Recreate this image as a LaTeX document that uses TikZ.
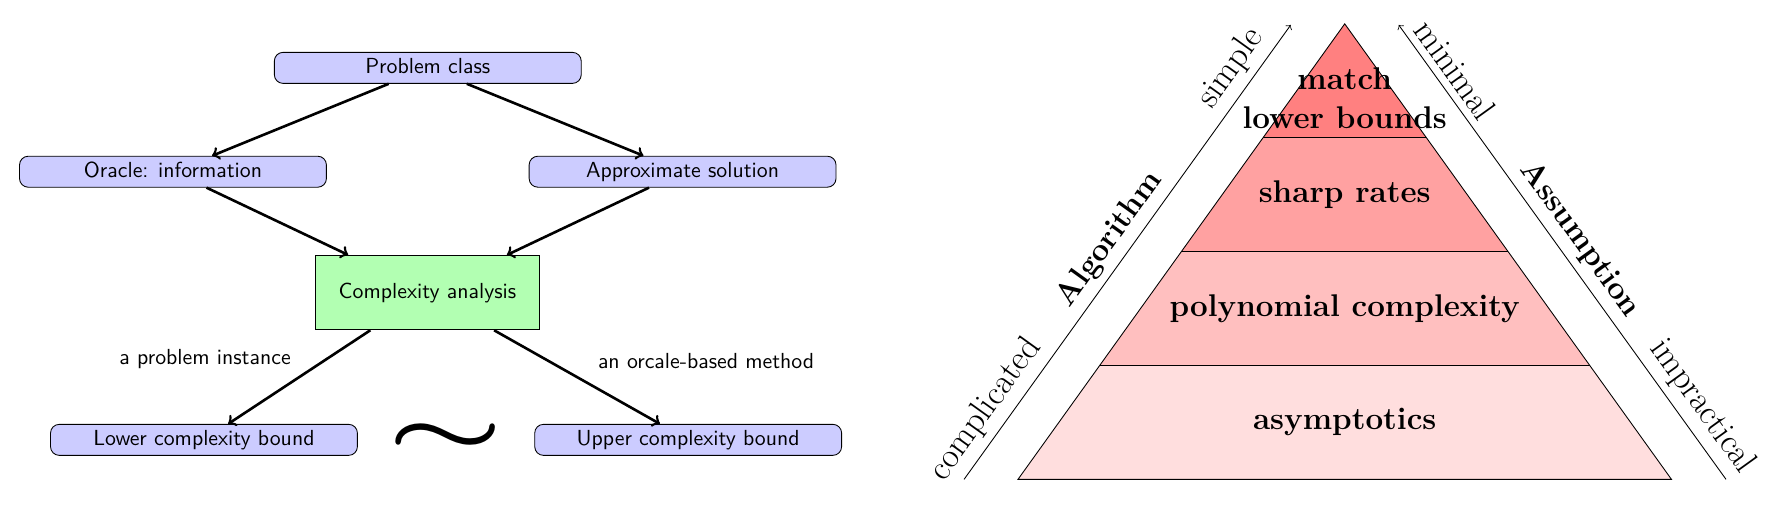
\documentclass[tikz,border=0pt]{standalone}
\usepackage{graphicx}
\begin{document}
\begin{tikzpicture}[
  bluebox/.style={draw, rounded corners, fill=blue!20, minimum width=4.95cm, minimum height=0.5cm,
    inner ysep=2.5pt, text height=1.5ex, text depth=.3ex},
  greenbox/.style={draw, fill=green!30, minimum width=3.6cm, minimum height=1.2cm},
  flow/.style={->, very thick},
  side/.style={sloped, above, font=\fontsize{16}{19}\selectfont},
  sidebf/.style={sloped, above, font=\Large\bfseries},
  level/.style={font=\Large\bfseries, align=center}]
\useasboundingbox (0,0) rectangle (28.84,8.24);
\begin{scope}[font=\sffamily]
  \node[bluebox] (problem) at (6.90,7.145) {Problem class};
  \node[bluebox] (oracle) at (2.79,5.47) {Oracle: information};
  \node[bluebox] (approx) at (11.01,5.47) {Approximate solution};
  \node[greenbox] (analysis) at (6.895,3.52) {Complexity analysis};
  \node[bluebox] (lower) at (3.29,1.145) {Lower complexity bound};
  \node[bluebox] (upper) at (11.10,1.145) {Upper complexity bound};
  \node (sim) at (7.19,1.17) {\scalebox{2.4}[1.4]{\Huge\boldmath$\sim$}};
  \draw[flow] (problem) -- (oracle);
  \draw[flow] (problem) -- (approx);
  \draw[flow] (oracle) -- (analysis);
  \draw[flow] (approx) -- (analysis);
  \draw[flow] (analysis) -- node[above left, pos=.5] {a problem instance} (lower);
  \draw[flow] (analysis) -- node[above right, pos=.5, xshift=.2cm] {an orcale-based method} (upper);
\end{scope}
\begin{scope}[shift={(21.69,0.508)}]
  \foreach \i/\c in {0/red!13, 1/red!25, 2/red!37, 3/red!50}
    \fill[\c] ({-5.27*(1-\i/4)},{1.837*\i}) -- ({5.27*(1-\i/4)},{1.837*\i})
      -- ({5.27*(1-(\i+1)/4)},{1.837*(\i+1)}) -- ({-5.27*(1-(\i+1)/4)},{1.837*(\i+1)}) -- cycle;
  \foreach \i in {1,2,3}
    \draw ({-5.27*(1-\i/4)},{1.837*\i}) -- ({5.27*(1-\i/4)},{1.837*\i});
  \draw (-5.27,0) -- (5.27,0) -- (0,7.347) -- cycle;
  \node[level] (asym) at (0,0.92) {asymptotics};
  \node[level] (poly) at (0,2.755) {polynomial complexity};
  \node[level] (sharp) at (0,4.59) {sharp rates};
  \node[level] (match) at (0,6.15) {match\\lower bounds};
  \coordinate (algolow) at (-6.14,0);
  \coordinate (algohigh) at (-0.87,7.33);
  \coordinate (assumlow) at (6.15,0);
  \coordinate (assumhigh) at (0.87,7.33);
  \draw[->] (algolow) -- node[side, pos=.124] {complicated} node[sidebf, midway] {Algorithm}
    node[side, pos=.875] {simple} (algohigh);
  \draw[->] (assumlow) -- node[side, pos=.13] {impractical} node[sidebf, midway] {Assumption}
    node[side, pos=.876] {minimal} (assumhigh);
\end{scope}
\end{tikzpicture}
\end{document}
